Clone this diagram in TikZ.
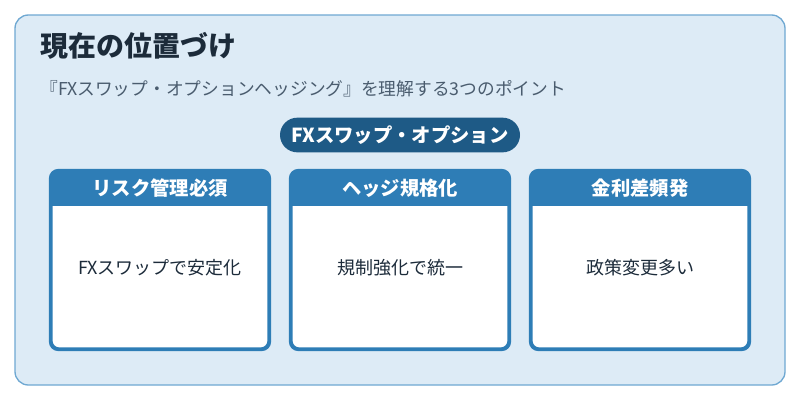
\documentclass[tikz,border=0pt]{standalone}
\usepackage{fontspec}
\setmainfont{Noto Sans CJK JP}
\usetikzlibrary{positioning,calc}
\definecolor{bgblue}{HTML}{DDEBF6}
\definecolor{edgeblue}{HTML}{6FA8D2}
\definecolor{headblue}{HTML}{2E7DB6}
\definecolor{pillblue}{HTML}{1E5A86}
\definecolor{titletext}{HTML}{1C2B3A}
\definecolor{subtext}{HTML}{4A5C6E}
\tikzset{
  card/.style={draw=headblue, line width=1.8pt, fill=white, rounded corners=6pt,
    minimum width=163pt, minimum height=133pt, inner sep=0pt},
  cardhead/.style={text=white, font=\bfseries\fontsize{14.5}{16}\selectfont},
  cardbody/.style={text=titletext, font=\fontsize{13.5}{15}\selectfont}
}
\begin{document}
\begin{tikzpicture}[x=0.75pt,y=-0.75pt]
	\useasboundingbox (0,0) rectangle (800,400);
	% frame
	\draw[edgeblue, line width=1pt, fill=bgblue, rounded corners=10pt] (15,15) rectangle (785,385);
	% title and subtitle
	\node[anchor=west, inner sep=0pt, text=titletext, font=\bfseries\fontsize{21}{24}\selectfont] (title) at (40,46) {現在の位置づけ};
	\node[anchor=west, inner sep=0pt, text=subtext, font=\fontsize{13.3}{15}\selectfont] (subtitle) at (40,89) {『FXスワップ・オプションヘッジング』を理解する3つのポイント};
	% pill
	\node[fill=pillblue, text=white, rounded corners=13pt, minimum width=180pt, minimum height=26pt,
	  font=\bfseries\fontsize{14.5}{16}\selectfont] (pill) at (400,135) {FXスワップ・オプション};
	% cards
	\foreach \i/\cx/\head/\body in {1/160/リスク管理必須/FXスワップで安定化,
	                               2/400/ヘッジ規格化/規制強化で統一,
	                               3/640/金利差頻発/政策変更多い}{
		\node[card] (card\i) at (\cx,260) {};
		\begin{scope}
			\clip[rounded corners=6pt] (card\i.north west) rectangle (card\i.south east);
			\fill[headblue] (card\i.north west) rectangle ($(card\i.north east)+(0,36)$);
		\end{scope}
		\draw[headblue, line width=1.8pt, rounded corners=6pt] (card\i.north west) rectangle (card\i.south east);
		\node[cardhead] (head\i) at ($(card\i.north)+(0,18)$) {\head};
		\node[cardbody] (body\i) at ($(card\i.center)+(0,8)$) {\body};
	}
\end{tikzpicture}
\end{document}
